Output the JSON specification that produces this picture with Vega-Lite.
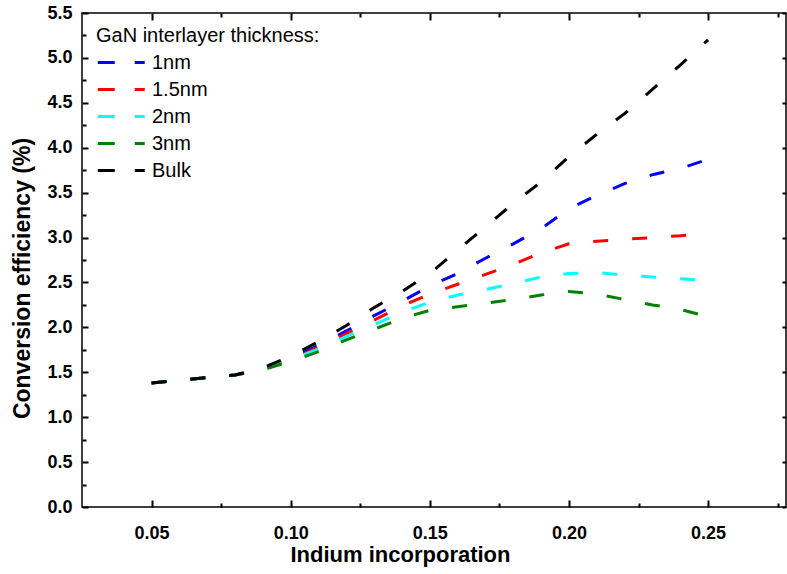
{
  "$schema": "https://vega.github.io/schema/vega-lite/v6.json",
  "width": 704,
  "height": 494,
  "autosize": "none",
  "padding": {"left": 82, "top": 13, "right": 1, "bottom": 67},
  "background": "white",
  "config": {
    "view": {"stroke": "black", "strokeWidth": 1.5},
    "font": "Liberation Sans",
    "axis": {
      "grid": false,
      "domain": false,
      "labelFont": "Liberation Sans",
      "labelFontWeight": "bold",
      "labelFontSize": 18,
      "labelColor": "black",
      "titleFont": "Liberation Sans",
      "titleFontWeight": "bold",
      "titleFontSize": 22,
      "titleColor": "black"
    },
    "legend": {
      "orient": "none",
      "legendX": 14,
      "legendY": 13,
      "padding": 0,
      "titlePadding": 3,
      "rowPadding": 3,
      "labelOffset": 29,
      "symbolType": "M-1,0H3",
      "symbolSize": 552,
      "symbolStrokeWidth": 3,
      "symbolDash": [17, 20],
      "titleFont": "Liberation Sans",
      "titleFontWeight": "normal",
      "titleFontSize": 20,
      "titleColor": "black",
      "titleLimit": 0,
      "labelFont": "Liberation Sans",
      "labelFontSize": 20,
      "labelColor": "black"
    }
  },
  "data": {
    "values": [
      {"t": "1nm", "x": 0.05, "y": 1.38}, {"t": "1nm", "x": 0.06, "y": 1.41}, {"t": "1nm", "x": 0.07, "y": 1.44}, {"t": "1nm", "x": 0.08, "y": 1.47}, {"t": "1nm", "x": 0.09, "y": 1.53},
      {"t": "1nm", "x": 0.10, "y": 1.65}, {"t": "1nm", "x": 0.11, "y": 1.80}, {"t": "1nm", "x": 0.12, "y": 1.96}, {"t": "1nm", "x": 0.13, "y": 2.13}, {"t": "1nm", "x": 0.14, "y": 2.29},
      {"t": "1nm", "x": 0.15, "y": 2.46}, {"t": "1nm", "x": 0.16, "y": 2.60}, {"t": "1nm", "x": 0.17, "y": 2.77}, {"t": "1nm", "x": 0.18, "y": 2.93}, {"t": "1nm", "x": 0.19, "y": 3.10},
      {"t": "1nm", "x": 0.20, "y": 3.32}, {"t": "1nm", "x": 0.21, "y": 3.47}, {"t": "1nm", "x": 0.22, "y": 3.60}, {"t": "1nm", "x": 0.23, "y": 3.70}, {"t": "1nm", "x": 0.24, "y": 3.77},
      {"t": "1nm", "x": 0.25, "y": 3.87},
      {"t": "1.5nm", "x": 0.05, "y": 1.38}, {"t": "1.5nm", "x": 0.06, "y": 1.41}, {"t": "1.5nm", "x": 0.07, "y": 1.44}, {"t": "1.5nm", "x": 0.08, "y": 1.47}, {"t": "1.5nm", "x": 0.09, "y": 1.53},
      {"t": "1.5nm", "x": 0.10, "y": 1.64}, {"t": "1.5nm", "x": 0.11, "y": 1.78}, {"t": "1.5nm", "x": 0.12, "y": 1.93}, {"t": "1.5nm", "x": 0.13, "y": 2.08}, {"t": "1.5nm", "x": 0.14, "y": 2.24},
      {"t": "1.5nm", "x": 0.15, "y": 2.37}, {"t": "1.5nm", "x": 0.16, "y": 2.48}, {"t": "1.5nm", "x": 0.17, "y": 2.59}, {"t": "1.5nm", "x": 0.18, "y": 2.70}, {"t": "1.5nm", "x": 0.19, "y": 2.83},
      {"t": "1.5nm", "x": 0.20, "y": 2.93}, {"t": "1.5nm", "x": 0.21, "y": 2.96}, {"t": "1.5nm", "x": 0.22, "y": 2.98}, {"t": "1.5nm", "x": 0.23, "y": 3.00}, {"t": "1.5nm", "x": 0.24, "y": 3.02},
      {"t": "1.5nm", "x": 0.25, "y": 3.05},
      {"t": "2nm", "x": 0.05, "y": 1.38}, {"t": "2nm", "x": 0.06, "y": 1.41}, {"t": "2nm", "x": 0.07, "y": 1.44}, {"t": "2nm", "x": 0.08, "y": 1.47}, {"t": "2nm", "x": 0.09, "y": 1.53},
      {"t": "2nm", "x": 0.10, "y": 1.64}, {"t": "2nm", "x": 0.11, "y": 1.76}, {"t": "2nm", "x": 0.12, "y": 1.90}, {"t": "2nm", "x": 0.13, "y": 2.03}, {"t": "2nm", "x": 0.14, "y": 2.17},
      {"t": "2nm", "x": 0.15, "y": 2.28}, {"t": "2nm", "x": 0.16, "y": 2.36}, {"t": "2nm", "x": 0.17, "y": 2.42}, {"t": "2nm", "x": 0.18, "y": 2.49}, {"t": "2nm", "x": 0.19, "y": 2.56},
      {"t": "2nm", "x": 0.20, "y": 2.60}, {"t": "2nm", "x": 0.21, "y": 2.61}, {"t": "2nm", "x": 0.22, "y": 2.58}, {"t": "2nm", "x": 0.23, "y": 2.56}, {"t": "2nm", "x": 0.24, "y": 2.54},
      {"t": "2nm", "x": 0.25, "y": 2.52},
      {"t": "3nm", "x": 0.05, "y": 1.38}, {"t": "3nm", "x": 0.06, "y": 1.41}, {"t": "3nm", "x": 0.07, "y": 1.44}, {"t": "3nm", "x": 0.08, "y": 1.47}, {"t": "3nm", "x": 0.09, "y": 1.53},
      {"t": "3nm", "x": 0.10, "y": 1.62}, {"t": "3nm", "x": 0.11, "y": 1.73}, {"t": "3nm", "x": 0.12, "y": 1.86}, {"t": "3nm", "x": 0.13, "y": 1.98}, {"t": "3nm", "x": 0.14, "y": 2.10},
      {"t": "3nm", "x": 0.15, "y": 2.19}, {"t": "3nm", "x": 0.16, "y": 2.23}, {"t": "3nm", "x": 0.17, "y": 2.27}, {"t": "3nm", "x": 0.18, "y": 2.31}, {"t": "3nm", "x": 0.19, "y": 2.36},
      {"t": "3nm", "x": 0.20, "y": 2.40}, {"t": "3nm", "x": 0.21, "y": 2.37}, {"t": "3nm", "x": 0.22, "y": 2.31}, {"t": "3nm", "x": 0.23, "y": 2.25}, {"t": "3nm", "x": 0.24, "y": 2.20},
      {"t": "3nm", "x": 0.25, "y": 2.12},
      {"t": "Bulk", "x": 0.05, "y": 1.38}, {"t": "Bulk", "x": 0.06, "y": 1.41}, {"t": "Bulk", "x": 0.07, "y": 1.44}, {"t": "Bulk", "x": 0.08, "y": 1.47}, {"t": "Bulk", "x": 0.09, "y": 1.55},
      {"t": "Bulk", "x": 0.10, "y": 1.68}, {"t": "Bulk", "x": 0.11, "y": 1.84}, {"t": "Bulk", "x": 0.12, "y": 2.02}, {"t": "Bulk", "x": 0.13, "y": 2.22}, {"t": "Bulk", "x": 0.14, "y": 2.40},
      {"t": "Bulk", "x": 0.15, "y": 2.60}, {"t": "Bulk", "x": 0.16, "y": 2.86}, {"t": "Bulk", "x": 0.17, "y": 3.12}, {"t": "Bulk", "x": 0.18, "y": 3.38}, {"t": "Bulk", "x": 0.19, "y": 3.62},
      {"t": "Bulk", "x": 0.20, "y": 3.90}, {"t": "Bulk", "x": 0.21, "y": 4.15}, {"t": "Bulk", "x": 0.22, "y": 4.38}, {"t": "Bulk", "x": 0.23, "y": 4.65}, {"t": "Bulk", "x": 0.24, "y": 4.92},
      {"t": "Bulk", "x": 0.25, "y": 5.20}
    ]
  },
  "layer": [
    {
      "mark": {"type": "line", "strokeWidth": 3, "strokeDash": [15, 24]},
      "encoding": {
        "x": {
          "field": "x", "type": "quantitative",
          "scale": {"domain": [0.025, 0.278], "nice": false, "zero": false},
          "axis": {
            "orient": "bottom",
            "title": "Indium incorporation",
            "values": [0.05, 0.075, 0.1, 0.125, 0.15, 0.175, 0.2, 0.225, 0.25, 0.275],
            "offset": -7,
            "ticks": true,
            "tickColor": "black",
            "tickWidth": 2,
            "tickSize": 7,
            "tickDash": {"condition": {"test": "round(datum.value*1000) % 50 != 0", "value": [0, 3, 4, 30]}, "value": [10, 0]},
            "labelPadding": 17,
            "labelExpr": "round(datum.value*1000) % 50 == 0 ? format(datum.value, '.2f') : ''",
            "titleX": 318,
            "titleY": 61,
            "titleBaseline": "alphabetic",
            "titleAlign": "center"
          }
        },
        "y": {
          "field": "y", "type": "quantitative",
          "scale": {"domain": [0, 5.5], "nice": false},
          "axis": {
            "orient": "left",
            "title": "Conversion efficiency (%)",
            "values": [0, 0.25, 0.5, 0.75, 1, 1.25, 1.5, 1.75, 2, 2.25, 2.5, 2.75, 3, 3.25, 3.5, 3.75, 4, 4.25, 4.5, 4.75, 5, 5.25, 5.5],
            "offset": -6,
            "ticks": true,
            "tickColor": "black",
            "tickWidth": 2,
            "tickSize": 6,
            "tickDash": {"condition": {"test": "round(datum.value*100) % 50 != 0", "value": [0, 2, 4, 30]}, "value": [10, 0]},
            "labelPadding": 10,
            "labelExpr": "round(datum.value*100) % 50 == 0 ? format(datum.value, '.1f') : ''",
            "titleFontSize": 23,
            "titleX": -66,
            "titleY": 265,
            "titleAngle": -90,
            "titleAlign": "center",
            "titleBaseline": "middle"
          }
        },
        "color": {
          "field": "t", "type": "nominal",
          "scale": {"domain": ["1nm", "1.5nm", "2nm", "3nm", "Bulk"], "range": ["#0000ff", "#ff0000", "#00ffff", "#008000", "#000000"]},
          "legend": {"title": "GaN interlayer thickness:"}
        }
      }
    },
    {
      "mark": {"type": "point", "opacity": 0},
      "encoding": {
        "x": {
          "field": "x", "type": "quantitative",
          "axis": {
            "orient": "top", "title": null, "labels": false,
            "values": [0.05, 0.075, 0.1, 0.125, 0.15, 0.175, 0.2, 0.225, 0.25, 0.275],
            "offset": -7,
            "ticks": true,
            "tickColor": "black",
            "tickWidth": 2,
            "tickSize": 7,
            "tickDash": {"condition": {"test": "round(datum.value*1000) % 50 != 0", "value": [0, 3, 4, 30]}, "value": [10, 0]}
          }
        },
        "y": {
          "field": "y", "type": "quantitative",
          "axis": {
            "orient": "right", "title": null, "labels": false,
            "values": [0, 0.5, 1, 1.5, 2, 2.5, 3, 3.5, 4, 4.5, 5, 5.5],
            "offset": -4,
            "ticks": true,
            "tickColor": "black",
            "tickWidth": 2,
            "tickSize": 4
          }
        }
      }
    }
  ],
  "resolve": {"axis": {"x": "independent", "y": "independent"}}
}
